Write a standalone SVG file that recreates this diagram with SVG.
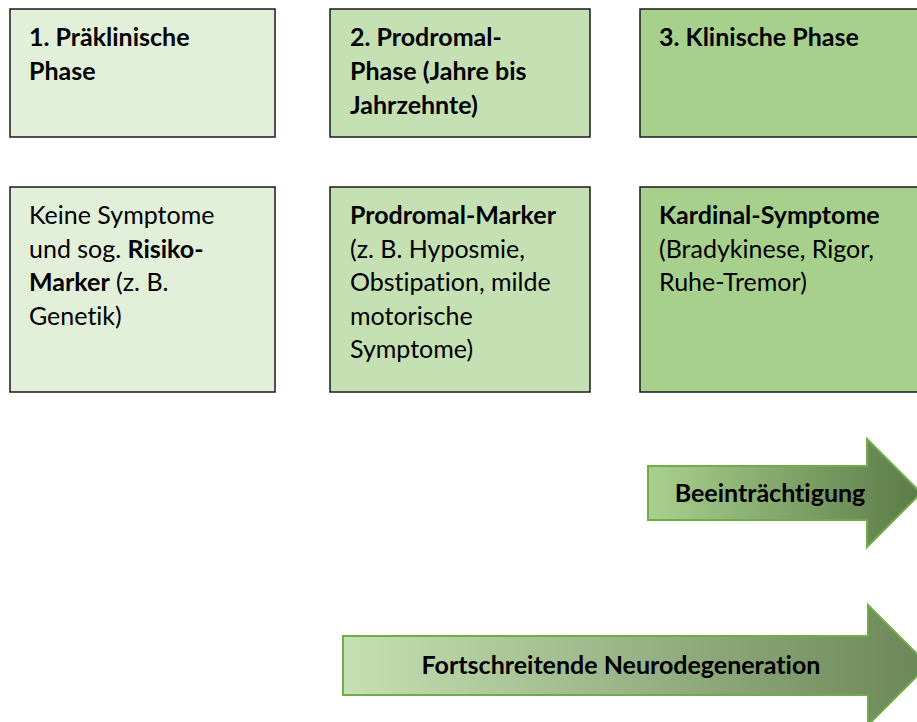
<svg xmlns="http://www.w3.org/2000/svg" width="917" height="722" viewBox="0 0 917 722">
<defs>
<style>
text{font-family:Lato,"Liberation Sans",sans-serif;font-size:25px;fill:#000;font-variant-ligatures:none}
.b{font-weight:bold}
.box{stroke:#1a1a1a;stroke-width:1.5}
.p1{fill:#e2efd9}.p2{fill:#c5e0b3}.p3{fill:#a8d08d}
.arr{stroke:#70ad47;stroke-width:2}
</style>
<linearGradient id="g1" x1="648" y1="0" x2="921" y2="0" gradientUnits="userSpaceOnUse">
<stop offset="0" stop-color="#a9d18e"/><stop offset="1" stop-color="#5b7a47"/>
</linearGradient>
<linearGradient id="g2" x1="343" y1="0" x2="928" y2="0" gradientUnits="userSpaceOnUse">
<stop offset="0" stop-color="#c5e0b3"/><stop offset="1" stop-color="#6b8758"/>
</linearGradient>
</defs>
<rect width="917" height="722" fill="#fff"/>
<g id="phase1">
<rect class="box p1" x="10" y="9" width="265" height="128"/>
<text class="b" x="29" y="46">1. Präklinische</text>
<text class="b" x="29" y="80">Phase</text>
</g>
<g id="phase2">
<rect class="box p2" x="330" y="9" width="260" height="128"/>
<text class="b" x="350" y="46">2. Prodromal-</text>
<text class="b" x="350" y="80">Phase (Jahre bis</text>
<text class="b" x="350" y="114">Jahrzehnte)</text>
</g>
<g id="phase3">
<rect class="box p3" x="640" y="9" width="290" height="128"/>
<text class="b" x="659" y="46">3. Klinische Phase</text>
</g>
<g id="desc1">
<rect class="box p1" x="10" y="187" width="265" height="205"/>
<text x="29" y="224">Keine Symptome</text>
<text x="29" y="258">und sog. <tspan class="b">Risiko-</tspan></text>
<text x="29" y="291"><tspan class="b">Marker</tspan> (z. B.</text>
<text x="29" y="325">Genetik)</text>
</g>
<g id="desc2">
<rect class="box p2" x="330" y="187" width="260" height="205"/>
<text class="b" x="350" y="224">Prodromal-Marker</text>
<text x="350" y="258">(z. B. Hyposmie,</text>
<text x="350" y="291">Obstipation, milde</text>
<text x="350" y="325">motorische</text>
<text x="350" y="358">Symptome)</text>
</g>
<g id="desc3">
<rect class="box p3" x="640" y="187" width="290" height="205"/>
<text class="b" x="659" y="224">Kardinal-Symptome</text>
<text x="659" y="258">(Bradykinese, Rigor,</text>
<text x="659" y="291">Ruhe-Tremor)</text>
</g>
<g id="connectors">
<g id="arrow-impairment">
<path class="arr" fill="url(#g1)" d="M648,466 H867 V439 L921,493 L867,547 V520 H648 Z"/>
<text class="b" x="770" y="502" text-anchor="middle">Beeinträchtigung</text>
</g>
<g id="arrow-neurodegeneration">
<path class="arr" fill="url(#g2)" d="M343,636 H868 V605 L928,665 L868,725 V695 H343 Z"/>
<text class="b" x="621" y="674" text-anchor="middle">Fortschreitende Neurodegeneration</text>
</g>
</g>
</svg>
